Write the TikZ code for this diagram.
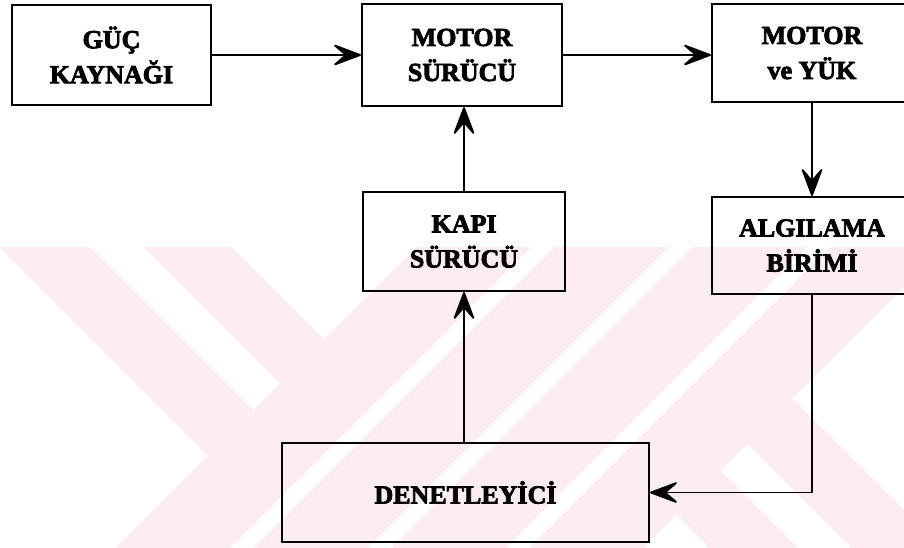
\documentclass[tikz,border=0pt]{standalone}
\usepackage{fontspec}
\setmainfont{Liberation Serif}[BoldFeatures={FakeBold=3}]
\usetikzlibrary{arrows.meta}
\definecolor{wmpink}{RGB}{253,237,241}
\tikzset{
  blk/.style={draw=black, line width=2pt, inner sep=0pt, align=center,
    font=\fontsize{26}{35}\selectfont\bfseries},
  conn/.style={line width=1.8pt, -{Stealth[length=32pt,width=24pt,inset=14pt,round]}},
  wm/.style={fill=white, draw=none}
}
\begin{document}
\begin{tikzpicture}[x=1pt, y=-1pt]
\useasboundingbox (0,0) rectangle (904,548);

% light background emblem
\begin{scope}
  \clip (0,247) rectangle (904,548);
  \fill[wmpink] (0,247) rectangle (904,548);
  % left chevron gaps
  \fill[wm] (207.5,455.5) -- (-300,-52) -- (-300,963) -- cycle;
  \fill[wm] (253,410) -- (279.5,383.5) -- (-104,0) -- (-157,0) -- cycle;
  \fill[wm] (324,339) -- (-15,0) -- (663,0) -- cycle;
  % right chevron gaps
  \fill[wm] (792.5,398.5) -- (1300,906) -- (1300,-109) -- cycle;
  \fill[wm] (747,444) -- (720.5,470.5) -- (1104,854) -- (1157,854) -- cycle;
  \fill[wm] (676,515) -- (1015,854) -- (337,854) -- cycle;
  % middle diagonal gaps
  \foreach \ca/\cb in {778/801, 916/939, 1054/1077}{
    \fill[wm] (-200,\ca+200) -- (1200,\ca-1200) -- (1200,\cb-1200) -- (-200,\cb+200) -- cycle;
  }
\end{scope}

% blocks
\node[blk, minimum width=199pt, minimum height=100pt] (guc)  at (111.5,55)  {GÜÇ\\KAYNAĞI};
\node[blk, minimum width=200pt, minimum height=102pt] (ms)   at (462,55)    {MOTOR\\SÜRÜCÜ};
\node[blk, minimum width=200pt, minimum height=98pt]  (my)   at (812,53)    {MOTOR\\ve YÜK};
\node[blk, minimum width=202pt, minimum height=99pt]  (kapi) at (464,241.5) {KAPI\\SÜRÜCÜ};
\node[blk, minimum width=200pt, minimum height=97pt]  (alg)  at (812,245.5) {ALGILAMA\\BİRİMİ};
\node[blk, minimum width=367pt, minimum height=99pt]  (den)  at (465.5,492.5) {DENETLEYİCİ};

% signal flow
\draw[conn] (guc.east) -- (ms.west);
\draw[conn] (ms.east) -- (ms.east -| my.west);
\draw[conn] (my.south) -- (alg.north);
\draw[conn] (kapi.north) -- (kapi.north |- ms.south);
\draw[conn] (kapi.south |- den.north) -- (kapi.south);
\draw[conn] (alg.south) |- (den.east);
\end{tikzpicture}
\end{document}
